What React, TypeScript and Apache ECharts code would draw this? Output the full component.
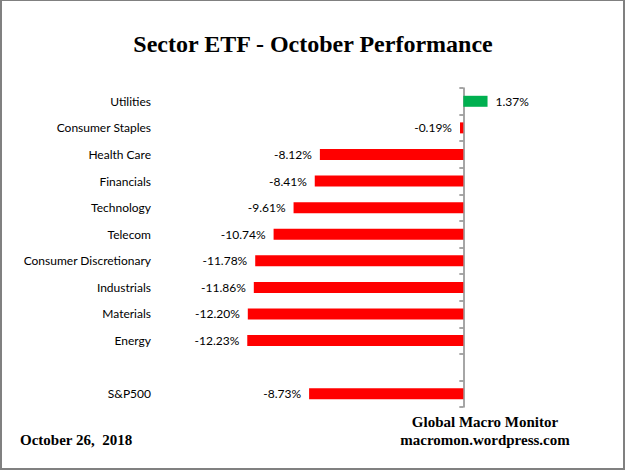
import { useEffect, useRef } from "react";
import * as echarts from "echarts";

const sectors = [
  "Utilities",
  "Consumer Staples",
  "Health Care",
  "Financials",
  "Technology",
  "Telecom",
  "Consumer Discretionary",
  "Industrials",
  "Materials",
  "Energy",
  "",
  "S&P500",
];
const returns = [1.37, -0.19, -8.12, -8.41, -9.61, -10.74, -11.78, -11.86, -12.2, -12.23, null, -8.73];

const title = "Sector ETF - October Performance";
const dateText = "October 26,  2018";
const sourceLines = ["Global Macro Monitor", "macromon.wordpress.com"];

const labelFont = "Lato, 'Open Sans', sans-serif";
const serif = "'Liberation Serif', 'Times New Roman', serif";

export default function App() {
  const chartRef = useRef(null);

  useEffect(() => {
    document.body.style.margin = "0";
    const chart = echarts.init(chartRef.current, null, { renderer: "svg" });

    const gridLeft = 163;
    const xMin = -17;
    const xMax = 4;
    const gridWidth = 371;
    const zeroOffset = ((0 - xMin) / (xMax - xMin)) * gridWidth;

    const options = {
      animation: false,
      backgroundColor: "#ffffff",
      title: {
        text: title,
        left: "center",
        top: 27,
        textStyle: {
          fontFamily: serif,
          fontWeight: "bold",
          fontSize: 24,
          color: "#000",
        },
      },
      grid: {
        left: gridLeft,
        width: gridWidth,
        top: 88,
        bottom: 67,
      },
      xAxis: {
        type: "value",
        min: xMin,
        max: xMax,
        show: false,
      },
      yAxis: [
        {
          type: "category",
          data: sectors,
          inverse: true,
          axisLine: { show: false },
          axisTick: { show: false },
          axisLabel: {
            margin: 12,
            fontFamily: labelFont,
            fontSize: 12,
            color: "#000",
          },
        },
        {
          type: "category",
          data: sectors,
          inverse: true,
          position: "left",
          offset: -zeroOffset,
          axisLine: { show: true, lineStyle: { color: "#888", width: 1.5 } },
          axisTick: { show: true, length: 4, lineStyle: { color: "#888", width: 1.5 } },
          axisLabel: { show: false },
        },
      ],
      series: [
        {
          type: "bar",
          barWidth: 11,
          data: returns.map((v) =>
            v === null
              ? null
              : {
                  value: v,
                  itemStyle: { color: v >= 0 ? "#00b050" : "#ff0000" },
                  label: { position: v >= 0 ? "right" : "left" },
                }
          ),
          label: {
            show: true,
            distance: 8,
            fontFamily: labelFont,
            fontSize: 12,
            color: "#000",
            formatter: (p: any) => p.value.toFixed(2) + "%",
          },
        },
      ],
      graphic: [
        {
          type: "rect",
          shape: { x: 1, y: 0, width: 623, height: 469 },
          style: { fill: "none", stroke: "#808080", lineWidth: 2 },
        },
        {
          type: "text",
          x: 20,
          y: 432,
          style: {
            text: dateText,
            font: `bold 15px ${serif}`,
            fill: "#000",
          },
        },
        {
          type: "text",
          x: 485,
          y: 413,
          style: {
            text: sourceLines.join("\n"),
            font: `bold 15px ${serif}`,
            fill: "#000",
            align: "center",
            lineHeight: 18,
          },
        },
      ],
    };

    chart.setOption(options);

    return () => {
      chart.dispose();
    };
  }, []);

  return <div ref={chartRef} style={{ width: "626px", height: "474px" }} />;
}
